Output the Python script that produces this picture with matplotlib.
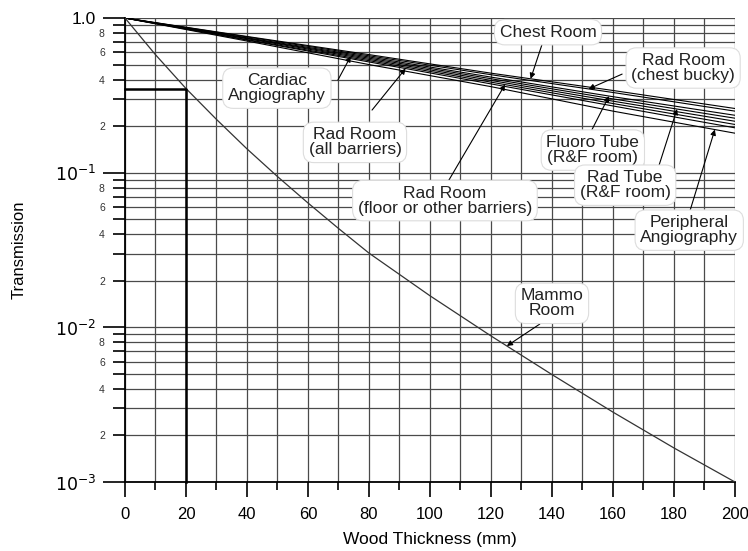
import numpy as np
import matplotlib.pyplot as plt
from matplotlib.ticker import FixedLocator, FixedFormatter, NullFormatter

plt.rcParams['font.family'] = ['Liberation Sans', 'DejaVu Sans']

# wood thickness (mm) where the bundle curves were read
thickness = [0, 40, 80, 120, 160, 200]

chest_room = [1.0, 0.76, 0.58, 0.44, 0.34, 0.26]
rad_chest_bucky = [1.0, 0.755, 0.57, 0.43, 0.33, 0.25]
fluoro_tube = [1.0, 0.745, 0.56, 0.415, 0.31, 0.235]
rad_tube = [1.0, 0.74, 0.55, 0.405, 0.30, 0.225]
cardiac = [1.0, 0.735, 0.54, 0.395, 0.29, 0.215]
rad_floor = [1.0, 0.725, 0.53, 0.385, 0.28, 0.205]
rad_all = [1.0, 0.72, 0.52, 0.375, 0.27, 0.195]
peripheral = [1.0, 0.71, 0.50, 0.36, 0.25, 0.18]

mammo_x = [0, 10, 20, 30, 40, 50, 60, 70, 80, 100, 120, 140, 160, 180, 200]
mammo_t = [1.0, 0.579, 0.35, 0.221, 0.1425, 0.0944, 0.0637, 0.0436, 0.0302,
           0.0160, 0.0088, 0.00495, 0.00283, 0.00166, 0.001]

marked_x = 20


def on_curve(xs, ts, x):
    return 10 ** np.interp(x, xs, np.log10(ts))


fig = plt.figure(figsize=(7.48, 5.51), dpi=100)
ax = fig.add_axes([0.1671, 0.1252, 0.8155, 0.8421])

for t in [chest_room, rad_chest_bucky, fluoro_tube, rad_tube,
          cardiac, rad_floor, rad_all, peripheral]:
    ax.plot(thickness, t, color='k', lw=0.8, zorder=3)
ax.plot(mammo_x, mammo_t, color='#333333', lw=0.9, zorder=3)

t20 = mammo_t[mammo_x.index(marked_x)]
ax.plot([0, marked_x, marked_x], [t20, t20, 1e-3], color='k', lw=1.8,
        zorder=4, clip_on=False)

ax.set_yscale('log')
ax.set_xlim(0, 200)
ax.set_ylim(1e-3, 1.0)

# axes, ticks, grid
ax.xaxis.set_major_locator(FixedLocator(range(0, 201, 20)))
ax.xaxis.set_minor_locator(FixedLocator(range(10, 200, 20)))
ax.yaxis.set_major_locator(FixedLocator([1e-3, 1e-2, 1e-1, 1.0]))
ax.yaxis.set_major_formatter(FixedFormatter(
    [r'$10^{-3}$', r'$10^{-2}$', r'$10^{-1}$', '1.0']))
minor_pos = []
minor_lab = []
for d in [1e-3, 1e-2, 1e-1]:
    for k in range(2, 10):
        minor_pos.append(k * d)
        minor_lab.append(str(k) if k % 2 == 0 else '')
ax.yaxis.set_minor_locator(FixedLocator(minor_pos))
ax.yaxis.set_minor_formatter(FixedFormatter(minor_lab))
ax.xaxis.set_minor_formatter(NullFormatter())

ax.tick_params(axis='y', which='major', direction='out', length=16,
               width=1.2, pad=5, labelsize=12.5)
ax.tick_params(axis='y', which='minor', direction='out', length=8.5,
               width=1.2, pad=6, labelsize=7.5, labelcolor='#333333')
ax.tick_params(axis='x', which='major', direction='out', length=11,
               width=1.2, pad=7, labelsize=12)
ax.tick_params(axis='x', which='minor', direction='out', length=5.5,
               width=1.2)

ax.grid(which='both', color='#4a4a4a', lw=0.9)
ax.set_axisbelow(True)
for s in ['top', 'right']:
    ax.spines[s].set_visible(False)
for s in ['left', 'bottom']:
    ax.spines[s].set_linewidth(1.3)

ax.set_xlabel('Wood Thickness (mm)', fontsize=12.5, labelpad=7)
ax.set_ylabel('Transmission', fontsize=12, labelpad=20)

# curve labels: text, text position, arrow tail, arrow tip x, curve
labels = [
    ('Chest Room', (138.7, 0.81), (137, 0.70), 133, chest_room),
    ('Rad Room\n(chest bucky)', (183, 0.475), (163, 0.434), 152, rad_chest_bucky),
    ('Cardiac\nAngiography', (49.8, 0.352), (69.8, 0.397), 74, cardiac),
    ('Rad Room\n(all barriers)', (75.4, 0.157), (81, 0.254), 92, rad_all),
    ('Rad Room\n(floor or other barriers)', (104.9, 0.066), (105.6, 0.0855), 124.6, rad_floor),
    ('Fluoro Tube\n(R&F room)', (153.4, 0.14), (153, 0.188), 158.7, fluoro_tube),
    ('Rad Tube\n(R&F room)', (164, 0.083), (174.8, 0.107), 181, rad_tube),
    ('Peripheral\nAngiography', (185, 0.0425), (185, 0.0547), 193.4, peripheral),
]
box = dict(boxstyle='round,pad=0.3,rounding_size=0.6', fc='white',
           ec='#dddddd', lw=0.8)
arrow = dict(arrowstyle='-|>', lw=0.8, color='k', mutation_scale=8,
             shrinkA=0, shrinkB=0)
for text, pos, tail, tipx, curve in labels:
    ax.annotate('', xy=(tipx, on_curve(thickness, curve, tipx)), xytext=tail,
                arrowprops=arrow, zorder=5)
    ax.text(pos[0], pos[1], text, ha='center', va='center', fontsize=12.5,
            color='#222222', bbox=box, zorder=6, linespacing=1.0)

ax.annotate('', xy=(125.2, on_curve(mammo_x, mammo_t, 125.2)),
            xytext=(136, 0.0105), arrowprops=arrow, zorder=5)
ax.text(140, 0.0143, 'Mammo\nRoom', ha='center', va='center', fontsize=12.5,
        color='#222222', bbox=box, zorder=6, linespacing=1.0)

fig.savefig('out.png', dpi=100)
